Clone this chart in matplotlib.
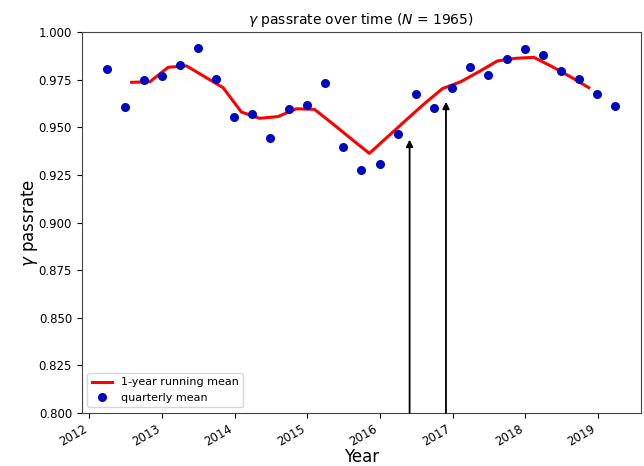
import matplotlib
matplotlib.use('Agg')
import matplotlib.pyplot as plt
import pandas as pd

# quarterly means (quarter-end dates)
q_dates = pd.date_range('2012-03-31', periods=29, freq='QE')
q_vals = [0.9807, 0.9608, 0.9748, 0.9771, 0.9825, 0.9918, 0.9755, 0.9555,
          0.9568, 0.9444, 0.9596, 0.9615, 0.9732, 0.9398, 0.9276, 0.9305,
          0.9463, 0.9673, 0.9603, 0.9708, 0.9815, 0.9773, 0.9860, 0.9912,
          0.9879, 0.9797, 0.9755, 0.9673, 0.9610]

# 1-year running mean
r_dates = pd.date_range('2012-08-01', '2018-11-17', periods=26)
r_vals = [0.9736, 0.9739, 0.9815, 0.9822, 0.9765, 0.9708, 0.9580, 0.9547,
          0.9556, 0.9597, 0.9594, 0.9518, 0.9440, 0.9363, 0.9450, 0.9537,
          0.9623, 0.9703, 0.9739, 0.9792, 0.9848, 0.9862, 0.9867, 0.9818,
          0.9765, 0.9708]

# events marked with arrows
ev_dates = pd.to_datetime(['2016-05-30', '2016-11-29'])
ev_tips = [0.9435, 0.9634]

fig = plt.figure(figsize=(6.44, 4.66), dpi=100)
ax = fig.add_axes([0.127, 0.1137, 0.868, 0.8176])

ax.plot(r_dates, r_vals, color='red', lw=2.2, label='1-year running mean', zorder=3)
ax.plot(q_dates, q_vals, 'o', color='#0008c0', ms=5.5, label='quarterly mean', zorder=4)

for d, t in zip(ev_dates, ev_tips):
    ax.annotate('', xy=(d, t), xytext=(d, 0.8),
                arrowprops=dict(arrowstyle='-|>', color='black', lw=1.3,
                                mutation_scale=10, shrinkA=0, shrinkB=0))

ax.set_ylim(0.8, 1.0)
ax.set_yticks([0.8, 0.825, 0.85, 0.875, 0.9, 0.925, 0.95, 0.975, 1.0])
ax.set_yticklabels(['%.3f' % v for v in ax.get_yticks()])
ax.set_title(r'$\gamma$ passrate over time ($N$ = 1965)', fontsize=10)
ax.set_ylabel(r'$\gamma$ passrate', fontsize=12)
ax.set_xlabel('Year', fontsize=12)
ax.xaxis.set_label_coords(0.5, -0.115)
ax.xaxis.label.set_va('center')
ax.yaxis.set_label_coords(-0.093, 0.5)
ax.yaxis.label.set_va('center')
ax.tick_params(labelsize=8.5)
for lab in ax.get_xticklabels():
    lab.set_rotation(30)
    lab.set_ha('right')
for s in ax.spines.values():
    s.set_color('#444444')
ax.legend(loc='lower left', fontsize=8, handlelength=1.8)

fig.savefig('out.png', dpi=100)
